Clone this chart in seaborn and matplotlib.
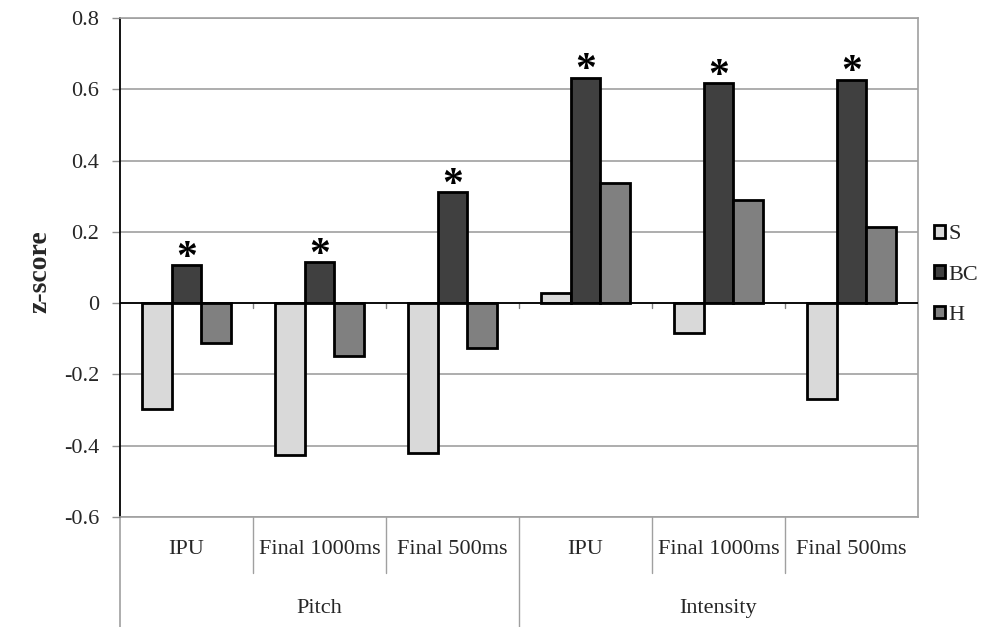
import matplotlib
matplotlib.use("Agg")
import matplotlib.pyplot as plt
import seaborn as sns
import pandas as pd
import numpy as np
from matplotlib.patches import Patch

groups = ["Pitch", "Intensity"]
measures = ["IPU", "Final 1000ms", "Final 500ms"]
series = ["S", "BC", "H"]
S_vals = [-0.298, -0.427, -0.420, 0.028, -0.084, -0.268]
BC_vals = [0.106, 0.115, 0.311, 0.632, 0.617, 0.627]
H_vals = [-0.112, -0.147, -0.125, 0.338, 0.288, 0.215]
significant = [True, True, True, True, True, True]
yticks = [-0.6, -0.4, -0.2, 0.0, 0.2, 0.4, 0.6, 0.8]
ytick_labels = ["-0.6", "-0.4", "-0.2", "0", "0.2", "0.4", "0.6", "0.8"]
colors = ["#d9d9d9", "#404040", "#808080"]

cats = [f"{g}|{m}" for g in groups for m in measures]
rows = []
for s, vals in zip(series, [S_vals, BC_vals, H_vals]):
    for c, v in zip(cats, vals):
        rows.append({"cat": c, "series": s, "z": v})
df = pd.DataFrame(rows)

sns.set_style("white")
plt.rcParams["font.family"] = ["Liberation Serif", "DejaVu Serif"]

fig = plt.figure(figsize=(10, 6.27), dpi=100)
ax = fig.add_axes([0.12, 1 - 517 / 627, 0.798, (517 - 18) / 627])

sns.barplot(data=df, x="cat", y="z", hue="series", order=cats, hue_order=series,
            palette=colors, width=0.667, gap=0, edgecolor="black", linewidth=2,
            errorbar=None, saturation=1, ax=ax, legend=False, zorder=3)

ax.set_ylim(-0.6, 0.8)
ax.set_xlim(-0.5, len(cats) - 0.5)
ax.set_yticks(yticks)
ax.set_yticklabels(ytick_labels, fontsize=16)
ax.set_xticks([])
ax.set_xlabel("")
ax.set_ylabel("")
ax.yaxis.grid(True, color="#a0a0a0", linewidth=1.2)
ax.set_axisbelow(True)
ax.tick_params(axis="y", direction="out", length=6, color="#909090", width=1, pad=9, left=True)

for side in ["top", "right", "bottom"]:
    ax.spines[side].set_color("#a0a0a0")
    ax.spines[side].set_linewidth(1.2)
ax.spines["left"].set_color("black")
ax.spines["left"].set_linewidth(1.3)

ax.axhline(0, color="black", linewidth=1.3, zorder=4)
# small ticks on zero line at category boundaries
for b in np.arange(0.5, len(cats) - 0.5, 1):
    ax.plot([b, b], [0, -0.015], color="#808080", linewidth=1, zorder=2)

# asterisks over significant BC bars
for bar, sig in zip(ax.containers[1], significant):
    if sig:
        ax.annotate("*", (bar.get_x() + bar.get_width() / 2, bar.get_height()),
                    xytext=(0, -9), textcoords="offset points", ha="center", va="bottom",
                    fontsize=30, fontweight="bold", color="black", zorder=5)

# two-level category axis
trans = ax.get_xaxis_transform()
sep_color = "#a0a0a0"
for i, c in enumerate(cats):
    g, m = c.split("|")
    ax.text(i, -0.066, m, transform=trans, ha="center", va="center", fontsize=16)
for b in np.arange(0.5, len(cats) - 0.5, 1):
    if b == 2.5:
        continue
    ax.plot([b, b], [0, -0.112], transform=trans, color=sep_color, linewidth=1, clip_on=False)
ax.plot([2.5, 2.5], [0, -0.23], transform=trans, color=sep_color, linewidth=1, clip_on=False)
ax.plot([-0.5, -0.5], [0, -0.23], transform=trans, color=sep_color, linewidth=1.2, clip_on=False)
for gi, g in enumerate(groups):
    ax.text(gi * 3 + 1, -0.184, g, transform=trans, ha="center", va="center", fontsize=16)

fig.text(0.04, 1 - 272 / 627, "z-score", rotation=90, ha="center", va="center",
         fontsize=20, fontweight="bold")

handles = [Patch(facecolor=col, edgecolor="black", linewidth=2) for col in colors]
ax.legend(handles, series, loc="center left", bbox_to_anchor=(1.02, 0.485),
          frameon=False, fontsize=16, handlelength=0.5, handleheight=0.5,
          handletextpad=0.15, labelspacing=0.95, borderpad=0, borderaxespad=0)

fig.savefig("out.png", dpi=100)
